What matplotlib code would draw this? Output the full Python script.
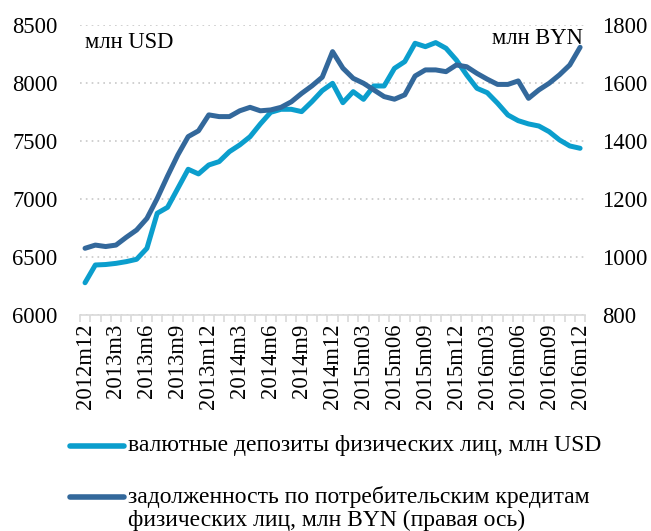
"""Валютные депозиты и потребительские кредиты физических лиц, 2012m12-2016m12."""
import matplotlib
matplotlib.use("Agg")
import matplotlib.pyplot as plt
from matplotlib.lines import Line2D

plt.rcParams['font.family'] = ['Liberation Serif', 'DejaVu Serif']

# monthly points 2012m12 .. 2016m12 (49 values)
months = list(range(49))

# валютные депозиты физических лиц, млн USD (left axis)
deposits_usd = [6278, 6431, 6435, 6445, 6460, 6480, 6575, 6877, 6928, 7092,
                7256, 7216, 7293, 7322, 7408, 7466, 7537, 7647, 7747, 7773,
                7773, 7753, 7839, 7934, 7997, 7830, 7925, 7859, 7974, 7974,
                8126, 8184, 8342, 8313, 8348, 8299, 8198, 8069, 7954, 7916,
                7825, 7724, 7675, 7647, 7629, 7580, 7509, 7457, 7437]

# задолженность по потребительским кредитам, млн BYN (right axis)
loans_byn = [1030, 1041, 1036, 1041, 1068, 1093, 1133, 1202, 1279, 1352,
             1415, 1435, 1490, 1484, 1484, 1504, 1516, 1504, 1507, 1516,
             1535, 1564, 1590, 1620, 1708, 1651, 1616, 1599, 1576, 1553,
             1544, 1559, 1624, 1645, 1645, 1639, 1662, 1656, 1633, 1613,
             1595, 1595, 1607, 1547, 1576, 1599, 1628, 1662, 1723]

tick_pos = list(range(0, 49, 3))
tick_labels = ["2012m12", "2013m3", "2013m6", "2013m9", "2013m12", "2014m3",
               "2014m6", "2014m9", "2014m12", "2015m03", "2015m06", "2015m09",
               "2015m12", "2016m03", "2016m06", "2016m09", "2016m12"]

light = "#0B9ECD"
dark = "#33689B"
fs = 16.3
fs_leg = 17

fig = plt.figure(figsize=(6.51, 5.31), dpi=100)
ax = fig.add_axes([0.1227, 0.4068, 0.7763, 0.5462])
ax2 = ax.twinx()

ax.plot(months, deposits_usd, color=light, lw=3.6, solid_capstyle="round",
        solid_joinstyle="round", zorder=3)
ax2.plot(months, loans_byn, color=dark, lw=3.6, solid_capstyle="round",
         solid_joinstyle="round", zorder=3)

ax.set_xlim(-0.5, 48.5)
ax.set_ylim(6000, 8500)
ax2.set_ylim(800, 1800)
ax.set_yticks(range(6000, 8501, 500))
ax2.set_yticks(range(800, 1801, 200))

ax.grid(axis="y", color="#c8c8c8", linestyle=(0, (1, 2.5)), lw=1.2)
ax.set_axisbelow(True)

for a in (ax, ax2):
    for s in a.spines.values():
        s.set_visible(False)
ax.spines["bottom"].set_visible(True)
ax.spines["bottom"].set_color("#d9d9d9")
ax.spines["bottom"].set_linewidth(1.2)

ax.set_xticks(tick_pos)
ax.set_xticklabels(tick_labels, rotation=90, fontsize=fs)
ax.set_xticks([x - 0.5 for x in range(50)], minor=True)
ax.tick_params(axis="x", which="major", length=0, pad=6)
ax.tick_params(axis="x", which="minor", length=5, color="#d9d9d9", width=1.2)
ax.tick_params(axis="y", length=0, labelsize=fs, pad=16)
ax2.tick_params(axis="y", length=0, labelsize=fs, pad=12)

ax.text(0.01, 0.94, "млн USD", transform=ax.transAxes, fontsize=fs,
        ha="left", va="center")
ax2.text(0.995, 0.955, "млн BYN", transform=ax.transAxes, fontsize=fs,
         ha="right", va="center")

# legend drawn by hand to match the layout of the original
fig.add_artist(Line2D([0.108, 0.19], [1 - 446 / 531] * 2, color=light, lw=4,
                      solid_capstyle="round"))
fig.text(0.197, 1 - 446 / 531, "валютные депозиты физических лиц, млн USD",
         fontsize=fs_leg, va="center")
fig.add_artist(Line2D([0.108, 0.19], [1 - 497 / 531] * 2, color=dark, lw=4,
                      solid_capstyle="round"))
fig.text(0.197, 1 - 497 / 531, "задолженность по потребительским кредитам",
         fontsize=fs_leg, va="center")
fig.text(0.197, 1 - 520 / 531, "физических лиц, млн BYN (правая ось)",
         fontsize=fs_leg, va="center")

fig.savefig("out.png", dpi=100)
